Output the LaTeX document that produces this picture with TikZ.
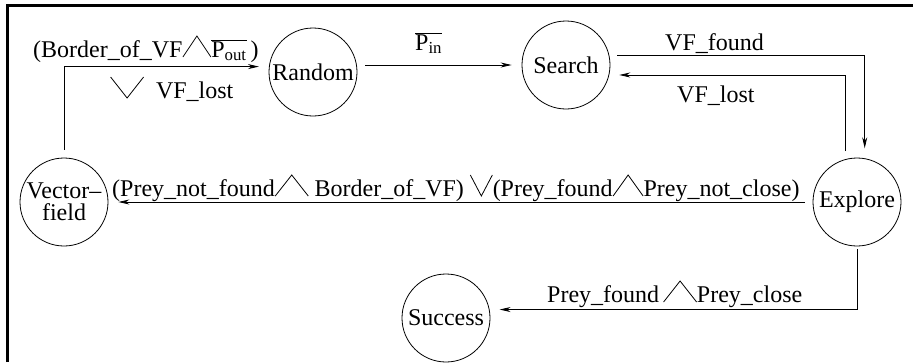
\documentclass[tikz,border=0pt]{standalone}
\usepackage{fontspec}
\setmainfont{Liberation Serif}
\usetikzlibrary{arrows.meta}
% logic signs, drawn as thin strokes
\newcommand{\andsym}[1][28]{\tikz[baseline=0pt]\draw[line width=0.8pt] (0pt,0pt) -- ({#1pt/2},21pt) -- (#1pt,0pt);}
\newcommand{\orsym}[1][28]{\tikz[baseline=0pt]\draw[line width=0.8pt] (0pt,21pt) -- ({#1pt/2},0pt) -- (#1pt,21pt);}
\begin{document}
\begin{tikzpicture}[x=1pt,y=-1pt,font=\fontsize{24}{22}\selectfont,
    state/.style={circle,draw,line width=0.8pt,minimum size=88pt,inner sep=0pt,align=center},
    arr/.style={-{Stealth[length=11pt,width=5pt]},line width=0.8pt,shorten >=10pt,shorten <=8pt},
    lbl/.style={inner sep=0pt,anchor=base west}]
    \useasboundingbox (0,0) rectangle (913,362);
    \draw[line width=3pt] (7.5,362) -- (7.5,5.5) -- (913,5.5);
    % states
    \node[state] (rnd) at (313,72) {Random};
    \node[state] (srch) at (566,65) {Search};
    \node[state] (xpl) at (857,202) {Explore};
    \node[state] (vf) at (64,202) {Vector--\\field};
    \node[state] (suc) at (446,318) {Success};
    % transitions
    \draw[arr] (vf.north) |- (rnd.173);
    \draw[arr] (rnd.east |- srch.west) -- (srch.west);
    \draw[arr] (srch.13) -| (xpl.80);
    \draw[arr] (xpl.105) |- (srch.-13);
    \draw[arr] (xpl) -- (vf);
    \draw[arr,shorten <=3pt] (xpl.south) |- (suc.11);
    % conditions
    \node[lbl] (l1) at (33,57) {(Border\_of\_VF\andsym$\overline{\mbox{P\textsubscript{out}}}$\,)};
    \node[lbl] (l2) at (110,98) {\orsym[33]\ \ VF\_lost};
    \node[lbl] (l3) at (415,50) {$\overline{\mbox{P\textsubscript{in}}}$};
    \node[lbl] (l4) at (665,50) {VF\_found};
    \node[lbl] (l5) at (677,102) {VF\_lost};
    \node[lbl] (l6) at (112,196) {(Prey\_not\_found\andsym[33]\ Border\_of\_VF)\ \orsym[22](Prey\_found\andsym[30]Prey\_not\_close)};
    \node[lbl] (l7) at (547,302) {Prey\_found\,\andsym[33]Prey\_close};
\end{tikzpicture}
\end{document}
